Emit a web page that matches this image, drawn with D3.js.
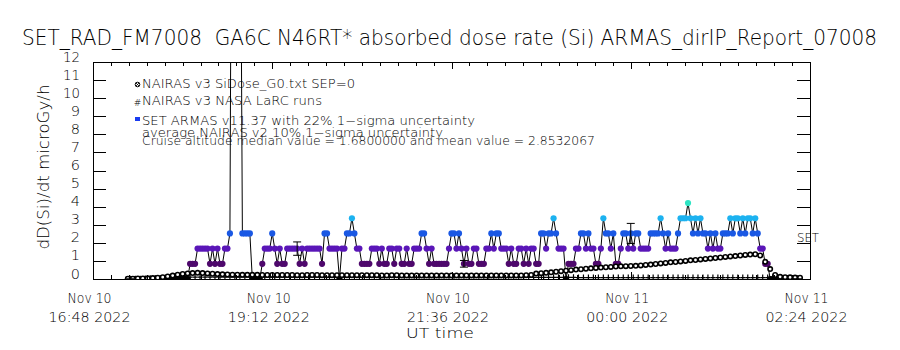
<!DOCTYPE html>
<html>
<head>
<meta charset="utf-8">
<script src="https://cdn.jsdelivr.net/npm/d3@7"></script>
<style>
  body { margin: 0; background: #fff; }
  svg { display: block; }
  text { font-family: "DejaVu Sans", "Liberation Sans", Arial, sans-serif; font-weight: 200; fill: #000; }
</style>
</head>
<body>
<div id="chart"></div>
<script>
// ARMAS dose rate, one reading every 2 minutes from 17:16 UT (microGy/h, Si)
var armasStart = '2022-11-10T17:16:00Z';
var armasStepMin = 2;
var armasDose = [
  0,0,0,0,0,0,0,0,0,0,
  0,0,0,0,0,0,0,0,0,0,
  0,0,0,0,0,0.84,0.84,0.84,1.68,1.68,
  1.68,1.68,1.68,0.84,1.68,0.84,1.68,0.84,0.84,1.68,
  1.68,2.52,36,52,47,29,2.52,2.52,2.52,2.52,
  0,0,0,0,0.84,1.68,1.68,1.68,2.52,1.68,
  0.84,1.68,0.84,0.84,1.68,1.68,1.68,1.68,1.68,0.84,
  1.68,0.84,1.68,1.68,1.68,1.68,1.68,1.68,0.84,2.52,
  2.52,1.68,1.68,1.68,1.68,0,1.68,1.68,2.52,2.52,
  3.36,2.52,1.68,1.68,0.84,0.84,0.84,0.84,1.68,1.68,
  1.68,0.84,1.68,0.84,0.84,1.68,1.68,0.84,1.68,1.68,
  0.84,0.84,1.68,0.84,0.84,1.68,1.68,1.68,2.52,2.52,
  1.68,0.84,1.68,0.84,0.84,0.84,0.84,0.84,0.84,1.68,
  2.52,2.52,1.68,2.52,1.68,0.84,1.68,0.84,0.84,1.68,
  1.68,0.84,0.84,0.84,1.68,1.68,2.52,1.68,2.52,2.52,
  1.68,1.68,1.68,0.84,1.68,0.84,0.84,1.68,1.68,0.84,
  1.68,0.84,1.68,1.68,0.84,0.84,2.52,2.52,1.68,2.52,
  2.52,3.36,2.52,1.68,1.68,1.68,0,0.84,0.84,0.84,
  1.68,1.68,2.52,2.52,1.68,2.52,1.68,1.68,0.84,0.84,
  1.68,3.36,2.52,2.52,1.68,2.52,0.84,0.84,1.68,2.52,
  2.52,1.68,2.52,1.68,2.52,2.52,1.68,1.68,1.68,1.68,
  2.52,2.52,2.52,2.52,3.36,2.52,1.68,2.52,1.68,1.68,
  1.68,2.52,3.36,3.36,3.36,4.2,3.36,2.52,3.36,2.52,
  3.36,2.52,2.52,1.68,2.52,1.68,2.52,1.68,1.68,2.52,
  2.52,2.52,3.36,2.52,3.36,3.36,2.52,3.36,2.52,3.36,
  3.36,2.52,3.36,2.52,1.68,1.68,0.84,0.84,0,0,
  0,0,0,0,0,0,0,0,0,0
];
var armasErrIdx = [1, 68, 135, 202, 269];
var armasSigma = 0.22;

// NAIRAS v3 SiDose_G0 model, every 4 minutes from 17:16 UT
var nairasStart = '2022-11-10T17:16:00Z';
var nairasStepMin = 4;
var nairasDose = [
  0.02,0.02,0.03,0.03,0.04,0.05,0.07,0.1,0.14,0.19,
  0.24,0.28,0.31,0.33,0.34,0.33,0.31,0.29,0.27,0.26,
  0.25,0.24,0.24,0.23,0.23,0.23,0.23,0.22,0.22,0.22,
  0.22,0.22,0.22,0.22,0.21,0.21,0.22,0.22,0.22,0.21,
  0.21,0.21,0.21,0.21,0.21,0.21,0.21,0.21,0.21,0.21,
  0.21,0.2,0.2,0.21,0.21,0.2,0.2,0.2,0.2,0.2,
  0.2,0.2,0.2,0.2,0.2,0.2,0.2,0.2,0.2,0.2,
  0.2,0.2,0.2,0.2,0.2,0.2,0.2,0.2,0.2,0.2,
  0.21,0.22,0.3,0.32,0.34,0.37,0.4,0.43,0.46,0.49,
  0.52,0.54,0.57,0.59,0.61,0.63,0.65,0.67,0.69,0.7,
  0.71,0.72,0.73,0.75,0.78,0.8,0.83,0.86,0.89,0.92,
  0.94,0.97,1.0,1.03,1.05,1.08,1.11,1.14,1.16,1.19,
  1.22,1.25,1.27,1.3,1.33,1.35,1.37,1.3,0.95,0.55,
  0.22,0.12,0.1,0.09,0.08,0.07
];

// NAIRAS v3 NASA LaRC runs, every 4 minutes from 17:18 UT
var larcStart = '2022-11-10T17:18:00Z';
var larcStepMin = 4;
var larcDose = [
  0.01,0.02,0.02,0.03,0.04,0.05,0.06,0.07,0.08,0.09,
  0.1,0.1,0.1,0.1,0.1,0.1,0.1,0.1,0.1,0.1,
  0.1,0.1,0.1,0.1,0.1,0.1,0.1,0.1,0.1,0.1,
  0.1,0.1,0.1,0.1,0.1,0.1,0.1,0.1,0.1,0.1,
  0.1,0.1,0.1,0.1,0.1,0.1,0.1,0.1,0.1,0.1,
  0.1,0.1,0.1,0.1,0.1,0.1,0.1,0.1,0.1,0.1,
  0.1,0.1,0.1,0.1,0.1,0.1,0.1,0.1,0.1,0.1,
  0.1,0.1,0.1,0.1,0.1,0.1,0.1,0.1,0.1,0.1,
  0.09,0.09,0.09,0.09,0.09,0.09,0.09,0.09,0.09,0.09,
  0.08,0.08,0.08,0.08,0.08,0.08,0.08,0.08,0.08,0.08,
  0.08,0.08,0.08,0.08,0.08,0.08,0.08,0.08,0.08,0.08,
  0.08,0.08,0.08,0.08,0.08,0.08,0.08,0.08,0.08,0.08,
  0.08,0.08,0.08,0.08,0.08,0.08,0.08,0.08,0.08,0.08,
  0.07,0.06,0.05,0.05,0.04
];

var xMajor = ['2022-11-10T16:48:00Z', '2022-11-10T19:12:00Z', '2022-11-10T21:36:00Z',
              '2022-11-11T00:00:00Z', '2022-11-11T02:24:00Z'];
var yTicks = [0, 1, 2, 3, 4, 5, 6, 7, 8, 9, 10, 11, 12];

// ARMAS colour by dose level
var levelBreaks = [0.42, 1.26, 2.1, 2.94, 3.78];
var levelColors = ['#000000', '#4e086c', '#5a16b8', '#1a58e4', '#1cb2f0', '#2ee4c4'];

var title = 'SET_RAD_FM7008  GA6C N46RT* absorbed dose rate (Si) ARMAS_dirIP_Report_07008';
var legendRows = ['NAIRAS v3 SiDose_G0.txt SEP=0',
                  'NAIRAS v3 NASA LaRC runs',
                  'SET ARMAS v11.37 with 22% 1\u2212sigma uncertainty',
                  'average NAIRAS v2 10% 1\u2212sigma uncertainty',
                  'Cruise altitude median value = 1.6800000 and mean value = 2.8532067'];

var w = 900, h = 350;
var FONT = '"DejaVu Sans", "Liberation Sans", Arial, sans-serif';

function series(start, step, vals) {
  var t0 = +new Date(start);
  return vals.map((v, i) => ({t: new Date(t0 + i * step * 60000), v: v, i: i}));
}
var armas = series(armasStart, armasStepMin, armasDose);
var nairas = series(nairasStart, nairasStepMin, nairasDose);
var larc = series(larcStart, larcStepMin, larcDose);

var x = d3.scaleUtc()
  .domain([new Date(xMajor[0]), new Date(xMajor[xMajor.length - 1])])
  .range([93, 810]);
var y = d3.scaleLinear().domain([0, 12]).range([279, 62]);
var color = d3.scaleThreshold().domain(levelBreaks).range(levelColors);

var svg = d3.select('#chart').append('svg')
  .attr('width', w).attr('height', h);

svg.append('clipPath').attr('id', 'plot')
  .append('rect').attr('x', 93).attr('y', 62).attr('width', 717).attr('height', 217);

var plot = svg.append('g').attr('clip-path', 'url(#plot)');

// ARMAS line + symbols
plot.append('path')
  .datum(armas)
  .attr('fill', 'none')
  .attr('stroke', '#000')
  .attr('stroke-width', 1)
  .attr('d', d3.line().x(d => x(d.t)).y(d => y(d.v)));

plot.selectAll('circle.armas')
  .data(armas)
  .enter().append('circle')
  .attr('class', 'armas')
  .attr('cx', d => x(d.t))
  .attr('cy', d => y(d.v))
  .attr('r', 3.1)
  .attr('fill', d => color(d.v));

// NAIRAS LaRC runs: plus signs
plot.selectAll('path.larc')
  .data(larc)
  .enter().append('path')
  .attr('class', 'larc')
  .attr('transform', d => 'translate(' + x(d.t) + ',' + y(d.v) + ')')
  .attr('d', 'M-2.5,0H2.5M0,-3V3')
  .attr('stroke', '#000')
  .attr('stroke-width', 1.2);

// NAIRAS SiDose: open circles
plot.selectAll('circle.nairas')
  .data(nairas)
  .enter().append('circle')
  .attr('class', 'nairas')
  .attr('cx', d => x(d.t))
  .attr('cy', d => y(d.v))
  .attr('r', 2.2)
  .attr('fill', '#fff')
  .attr('stroke', '#000')
  .attr('stroke-width', 1.6);

// ARMAS error bars
var errs = armas.filter(d => armasErrIdx.indexOf(d.i) >= 0);
var eb = plot.selectAll('g.err').data(errs).enter().append('g')
  .attr('stroke', '#000').attr('stroke-width', 1);
eb.append('line')
  .attr('x1', d => x(d.t)).attr('x2', d => x(d.t))
  .attr('y1', d => y(d.v * (1 - armasSigma))).attr('y2', d => y(d.v * (1 + armasSigma)));
eb.append('line')
  .attr('x1', d => x(d.t) - 4).attr('x2', d => x(d.t) + 4)
  .attr('y1', d => y(d.v * (1 - armasSigma))).attr('y2', d => y(d.v * (1 - armasSigma)));
eb.append('line')
  .attr('x1', d => x(d.t) - 4).attr('x2', d => x(d.t) + 4)
  .attr('y1', d => y(d.v * (1 + armasSigma))).attr('y2', d => y(d.v * (1 + armasSigma)));

// axes
var t0 = +x.domain()[0];
var xMinor = d3.range(0, 41).map(k => new Date(t0 + k * 14.4 * 60000));
var xMaj = xMajor.map(d => new Date(d));

function styleAxis(g) {
  g.attr('font-family', FONT).attr('font-size', 14.5);
  g.selectAll('line, path').attr('shape-rendering', 'crispEdges');
}

svg.append('g').attr('transform', 'translate(0,279)')
  .call(d3.axisBottom(x).tickValues(xMinor).tickSizeInner(-4).tickSizeOuter(0).tickFormat(''))
  .call(styleAxis);
var gx = svg.append('g').attr('transform', 'translate(0,279)')
  .call(d3.axisBottom(x).tickValues(xMaj).tickSizeInner(-7).tickSizeOuter(0).tickFormat(''))
  .call(styleAxis);
var fmtDay = d3.utcFormat('%b %d'), fmtTime = d3.utcFormat('%H:%M %Y');
gx.selectAll('.tick text').remove();
var lbl = gx.selectAll('.tick').append('text')
  .attr('text-anchor', 'middle').attr('fill', '#000');
lbl.append('tspan').attr('x', -4).attr('y', 24)
  .attr('textLength', 44).attr('lengthAdjust', 'spacingAndGlyphs')
  .text(d => fmtDay(d));
lbl.append('tspan').attr('x', -4).attr('y', 43)
  .attr('textLength', 82).attr('lengthAdjust', 'spacingAndGlyphs')
  .text(d => fmtTime(d));

svg.append('g').attr('transform', 'translate(0,62)')
  .call(d3.axisTop(x).tickValues(xMinor).tickSizeInner(-4).tickSizeOuter(0).tickFormat(''))
  .call(styleAxis);
svg.append('g').attr('transform', 'translate(0,62)')
  .call(d3.axisTop(x).tickValues(xMaj).tickSizeInner(-7).tickSizeOuter(0).tickFormat(''))
  .call(styleAxis);

var gy = svg.append('g').attr('transform', 'translate(93,0)')
  .call(d3.axisLeft(y).tickValues(yTicks).tickSizeInner(-13).tickSizeOuter(0).tickPadding(13).tickFormat(d3.format('d')))
  .call(styleAxis);
gy.selectAll('.tick text').attr('dy', -1).attr('fill', '#000')
  .filter(d => d >= 10).attr('textLength', 17).attr('lengthAdjust', 'spacingAndGlyphs');

svg.append('g').attr('transform', 'translate(810,0)')
  .call(d3.axisRight(y).tickValues(yTicks).tickSizeInner(-13).tickSizeOuter(0).tickFormat(''))
  .call(styleAxis);

// titles
svg.append('text')
  .attr('x', 22).attr('y', 45)
  .attr('font-size', 20.5)
  .attr('textLength', 855).attr('lengthAdjust', 'spacingAndGlyphs')
  .style('white-space', 'pre')
  .text(title);

svg.append('text')
  .attr('transform', 'translate(49,167) rotate(-90)')
  .attr('text-anchor', 'middle')
  .attr('font-size', 15.5)
  .attr('textLength', 165).attr('lengthAdjust', 'spacingAndGlyphs')
  .text('dD(Si)/dt microGy/h');

svg.append('text')
  .attr('x', 440).attr('y', 338)
  .attr('text-anchor', 'middle')
  .attr('font-size', 14.5)
  .attr('textLength', 68).attr('lengthAdjust', 'spacingAndGlyphs')
  .text('UT time');

svg.append('text')
  .attr('x', 797).attr('y', 242)
  .attr('font-size', 13)
  .attr('textLength', 22).attr('lengthAdjust', 'spacingAndGlyphs')
  .text('SET');

// legend
var legY = [87.5, 105, 124.5, 136.5, 145];
var legW = [213, 180, 333, 301, 453];
svg.selectAll('text.leg')
  .data(legendRows)
  .enter().append('text')
  .attr('class', 'leg')
  .attr('x', 142)
  .attr('y', (d, i) => legY[i])
  .attr('font-size', 12.5)
  .attr('textLength', (d, i) => legW[i]).attr('lengthAdjust', 'spacingAndGlyphs')
  .text(d => d);

svg.append('circle').attr('cx', 137.5).attr('cy', 84.5).attr('r', 2.3)
  .attr('fill', '#fff').attr('stroke', '#000').attr('stroke-width', 1);
svg.append('path').attr('d', 'M135.8,82.8L139.2,86.2M139.2,82.8L135.8,86.2')
  .attr('stroke', '#000').attr('stroke-width', 0.8);
svg.append('text').attr('x', 137.5).attr('y', 106).attr('text-anchor', 'middle')
  .attr('font-size', 9).text('#');
svg.append('rect').attr('x', 135).attr('y', 117).attr('width', 5).attr('height', 4)
  .attr('fill', '#1a3cf0');
</script>
</body>
</html>
